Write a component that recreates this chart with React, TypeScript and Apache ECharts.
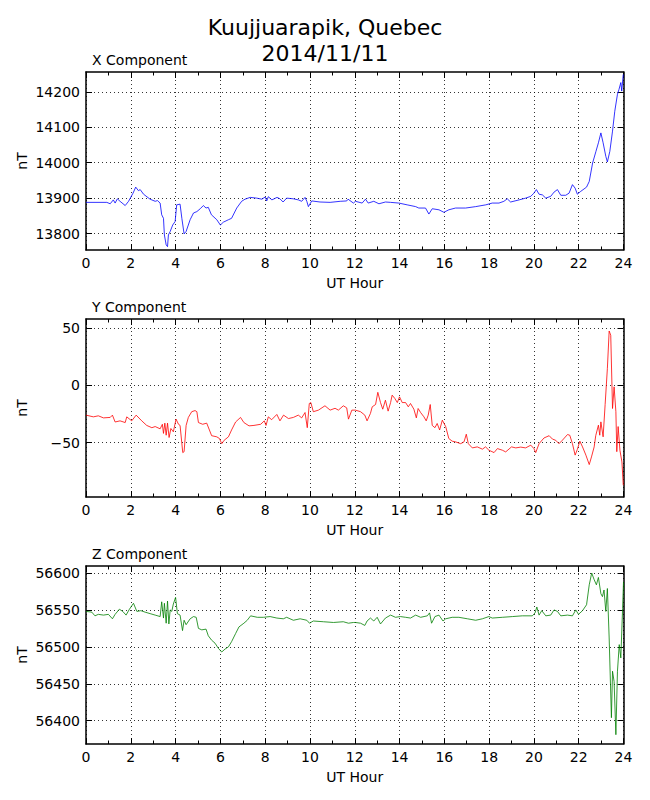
import React, { useEffect, useRef } from "react";
import * as echarts from "echarts";

const titleLines = ["Kuujjuarapik, Quebec", "2014/11/11"];
const panelTitles = ["X Component", "Y Component", "Z Component"];
const xTicks = [0, 2, 4, 6, 8, 10, 12, 14, 16, 18, 20, 22, 24];
const xCompTicks = [13800, 13900, 14000, 14100, 14200];
const yCompTicks = [-50, 0, 50];
const zCompTicks = [56400, 56450, 56500, 56550, 56600];
const xCompRange = [13753.6, 14255.8];
const yCompRange = [-97.7, 58.2];
const zCompRange = [56368.4, 56609.5];

const xCompHours = [0, 0.93, 1.08, 1.22, 1.3, 1.4, 1.52, 1.75, 1.9, 2.1, 2.22, 2.34, 2.42, 2.57, 2.86, 3.09, 3.19, 3.31, 3.38, 3.46, 3.5, 3.58, 3.64, 3.68, 3.76, 3.87, 3.98, 4.05, 4.2, 4.28, 4.38, 4.47, 4.65, 4.8, 4.95, 5.1, 5.24, 5.36, 5.46, 5.6, 5.84, 6.0, 6.13, 6.36, 6.5, 6.73, 6.95, 7.1, 7.33, 7.62, 7.85, 8.0, 8.07, 8.14, 8.3, 8.53, 8.66, 8.8, 8.96, 9.26, 9.48, 9.63, 9.78, 9.86, 9.93, 10.08, 10.45, 10.9, 11.35, 11.64, 11.7, 11.94, 12.03, 12.33, 12.48, 12.6, 12.85, 13.08, 13.37, 13.6, 13.97, 14.34, 14.72, 14.86, 15.16, 15.31, 15.46, 15.76, 15.98, 16.2, 16.5, 16.95, 17.4, 17.85, 18.14, 18.44, 18.66, 18.81, 18.96, 19.34, 19.63, 19.86, 20.0, 20.11, 20.23, 20.38, 20.53, 20.75, 20.9, 21.05, 21.2, 21.42, 21.57, 21.72, 21.84, 21.94, 22.09, 22.35, 22.47, 22.62, 22.77, 22.88, 22.99, 23.09, 23.21, 23.28, 23.39, 23.51, 23.61, 23.73, 23.8, 23.88, 23.92, 23.99];
const xCompValues = [13888, 13888, 13884, 13895, 13886, 13898, 13891, 13879, 13891, 13914, 13931, 13921, 13924, 13911, 13897, 13891, 13893, 13886, 13853, 13843, 13796, 13768, 13763, 13796, 13806, 13824, 13834, 13881, 13883, 13843, 13799, 13806, 13839, 13858, 13862, 13870, 13879, 13872, 13874, 13853, 13839, 13824, 13832, 13839, 13843, 13872, 13891, 13897, 13902, 13900, 13897, 13903, 13892, 13904, 13895, 13902, 13898, 13889, 13900, 13898, 13895, 13891, 13902, 13891, 13876, 13892, 13889, 13888, 13891, 13892, 13897, 13886, 13891, 13886, 13897, 13886, 13891, 13884, 13889, 13888, 13886, 13881, 13876, 13872, 13872, 13855, 13870, 13867, 13860, 13867, 13872, 13872, 13876, 13881, 13886, 13886, 13891, 13898, 13889, 13895, 13900, 13905, 13914, 13924, 13911, 13909, 13900, 13905, 13917, 13924, 13908, 13908, 13914, 13938, 13928, 13911, 13919, 13931, 13947, 13999, 14032, 14056, 14084, 14056, 14018, 14002, 14032, 14089, 14145, 14193, 14207, 14226, 14202, 14249];

const yCompHours = [0, 0.33, 0.55, 0.78, 1.08, 1.18, 1.3, 1.52, 1.75, 1.82, 2.04, 2.24, 2.49, 2.71, 2.94, 3.09, 3.31, 3.41, 3.46, 3.52, 3.58, 3.64, 3.71, 3.79, 3.9, 4.02, 4.13, 4.2, 4.32, 4.38, 4.47, 4.57, 4.72, 4.87, 4.95, 5.02, 5.21, 5.39, 5.51, 5.61, 5.84, 5.96, 6.06, 6.17, 6.36, 6.5, 6.68, 6.9, 7.05, 7.28, 7.5, 7.8, 7.96, 8.04, 8.14, 8.29, 8.52, 8.66, 8.82, 9.04, 9.26, 9.48, 9.63, 9.78, 9.88, 9.97, 10.04, 10.15, 10.38, 10.67, 10.9, 11.12, 11.27, 11.49, 11.64, 11.72, 11.87, 12.03, 12.26, 12.45, 12.55, 12.7, 12.78, 12.93, 13.03, 13.15, 13.25, 13.37, 13.49, 13.6, 13.67, 13.79, 13.9, 14.0, 14.12, 14.27, 14.39, 14.49, 14.64, 14.75, 14.83, 14.94, 15.09, 15.19, 15.28, 15.37, 15.46, 15.58, 15.68, 15.79, 15.91, 16.06, 16.2, 16.35, 16.5, 16.73, 16.88, 16.98, 17.07, 17.25, 17.47, 17.7, 17.84, 17.99, 18.22, 18.37, 18.59, 18.74, 19.0, 19.19, 19.41, 19.63, 19.86, 20.0, 20.08, 20.23, 20.45, 20.68, 20.83, 20.97, 21.12, 21.27, 21.5, 21.6, 21.72, 21.84, 21.94, 22.05, 22.17, 22.32, 22.47, 22.57, 22.69, 22.76, 22.88, 22.94, 22.99, 23.09, 23.18, 23.28, 23.36, 23.43, 23.51, 23.58, 23.66, 23.7, 23.76, 23.84, 23.93, 23.99];
const yCompValues = [-26, -27.5, -26.6, -28.4, -28, -26, -32, -31, -32.5, -27.5, -31, -26, -31, -35, -37, -36, -38, -34, -42, -33, -43.6, -33, -45.6, -37.7, -40.6, -29.5, -34, -35, -58.8, -58, -35, -28, -23, -22, -23, -32.5, -34, -33, -39, -44, -45, -46.5, -51, -48, -45, -39, -32, -28, -32.5, -35.4, -35, -34, -31, -35, -27.5, -30, -25.4, -31, -26, -29, -28, -26, -28.4, -23.7, -37, -15.8, -15, -23, -21.6, -17.8, -21.6, -20, -21.6, -17.8, -19.6, -29.5, -21.6, -21.6, -23, -26, -31, -24.5, -18.7, -16.7, -6, -15, -20.8, -12.9, -22.5, -15, -8.5, -11.4, -15, -10, -15, -15, -18.7, -15.8, -20.8, -28.4, -20.2, -23.7, -27.5, -31, -26, -16.7, -35, -37, -33.3, -39, -30.4, -36, -46.5, -48.8, -49.4, -51, -49.4, -42.7, -51, -54.7, -53.8, -55.8, -53.8, -56.7, -58.8, -55.3, -56.7, -58.2, -53.8, -54.7, -54, -54.7, -52.3, -55.3, -58.8, -51, -46, -44, -47, -48, -51, -48, -43, -43.6, -51, -61, -56, -48.8, -53.8, -61, -69.3, -62.6, -53.8, -44, -34.8, -43.6, -31.9, -45, -16.7, 15, 47.7, 44, -20.2, -1.2, -23, -58, -36, -56.7, -67, -87.4];

const zCompHours = [0, 0.26, 0.4, 0.55, 0.78, 1.0, 1.18, 1.3, 1.49, 1.64, 1.79, 1.94, 2.12, 2.27, 2.45, 2.64, 2.86, 3.09, 3.31, 3.38, 3.46, 3.5, 3.58, 3.64, 3.7, 3.76, 3.83, 3.9, 4.0, 4.08, 4.2, 4.31, 4.38, 4.47, 4.65, 4.8, 4.92, 5.02, 5.17, 5.36, 5.46, 5.61, 5.76, 5.91, 6.06, 6.21, 6.36, 6.5, 6.68, 6.83, 7.05, 7.2, 7.35, 7.65, 7.92, 8.22, 8.52, 8.81, 8.96, 9.26, 9.56, 9.86, 9.98, 10.15, 10.6, 11.05, 11.49, 11.72, 11.94, 12.03, 12.26, 12.45, 12.55, 12.7, 12.85, 13.0, 13.15, 13.37, 13.6, 13.82, 14.04, 14.27, 14.49, 14.72, 14.94, 15.24, 15.34, 15.43, 15.58, 15.76, 15.94, 16.06, 16.35, 16.65, 17.03, 17.4, 17.7, 17.99, 18.14, 18.59, 19.04, 19.48, 19.93, 20.05, 20.13, 20.23, 20.35, 20.53, 20.75, 20.9, 21.05, 21.2, 21.5, 21.72, 21.87, 21.99, 22.17, 22.35, 22.47, 22.58, 22.69, 22.79, 22.88, 22.99, 23.06, 23.13, 23.21, 23.28, 23.36, 23.46, 23.51, 23.58, 23.66, 23.73, 23.81, 23.88, 23.96, 24.0];
const zCompValues = [56548, 56547, 56542, 56544, 56543, 56544, 56538, 56544, 56551, 56548, 56543, 56551, 56559, 56548, 56549, 56547, 56545, 56543, 56541, 56561, 56539, 56559, 56532, 56562, 56531, 56550, 56548, 56558, 56567, 56545, 56543, 56522, 56536, 56530, 56538, 56541, 56540, 56525, 56523, 56524, 56515, 56509, 56505, 56498, 56493, 56497, 56500, 56507, 56518, 56527, 56532, 56536, 56542, 56540, 56540, 56541, 56539, 56538, 56540, 56536, 56538, 56536, 56532, 56535, 56534, 56533, 56534, 56532, 56533, 56533, 56532, 56529, 56535, 56539, 56535, 56540, 56531, 56539, 56543, 56540, 56541, 56540, 56539, 56543, 56540, 56542, 56546, 56532, 56541, 56543, 56535, 56538, 56540, 56540, 56538, 56536, 56538, 56541, 56539, 56540, 56541, 56542, 56542, 56546, 56554, 56543, 56549, 56542, 56543, 56550, 56548, 56542, 56543, 56542, 56550, 56544, 56549, 56557, 56584, 56600, 56591, 56584, 56594, 56572, 56568, 56577, 56548, 56579, 56512, 56404, 56467, 56453, 56381, 56467, 56503, 56485, 56552, 56588];

const FONT = "DejaVu Sans";

export default function App() {
  const ref = useRef<HTMLDivElement>(null);
  useEffect(() => {
    if (!ref.current) return;
    const chart = echarts.init(ref.current, null, { renderer: "svg" });
    const gridTops = [72, 319, 566];
    const gridH = 178;
    const left = 86;
    const width = 537.5;
    const panels = [
      { hours: xCompHours, values: xCompValues, ticks: xCompTicks, range: xCompRange, color: "#0000ff" },
      { hours: yCompHours, values: yCompValues, ticks: yCompTicks, range: yCompRange, color: "#ff0000" },
      { hours: zCompHours, values: zCompValues, ticks: zCompTicks, range: zCompRange, color: "#008000" },
    ];
    const fmt = (v: number) => (v < 0 ? "\u2212" + String(Math.abs(v)) : String(v));
    const dotted = { color: "#000", width: 0.8, type: [1, 3] as any };
    const frame = { color: "#000", width: 1.5 };
    const grid: any[] = [];
    const xAxis: any[] = [];
    const yAxis: any[] = [];
    const series: any[] = [];
    const graphic: any[] = [];
    panels.forEach((p, i) => {
      grid.push({ left, top: gridTops[i], width, height: gridH, containLabel: false });
      xAxis.push({
        type: "value", gridIndex: i, position: "bottom", min: 0, max: 24, interval: 2,
        axisLine: { show: true, onZero: false, lineStyle: frame },
        axisTick: { show: true, inside: true, length: 6, lineStyle: { color: "#000" } },
        minorTick: { show: true, splitNumber: 2, length: 3.5, lineStyle: { color: "#000" } },
        axisLabel: { show: true, margin: 6, color: "#000", fontSize: 14, fontFamily: FONT, formatter: fmt, customValues: xTicks },
        splitLine: { show: true, lineStyle: dotted },
        minorSplitLine: { show: false },
      });
      xAxis.push({
        type: "value", gridIndex: i, position: "top", min: 0, max: 24, interval: 2,
        axisLine: { show: true, onZero: false, lineStyle: frame },
        axisTick: { show: true, inside: true, length: 6, lineStyle: { color: "#000" } },
        minorTick: { show: true, splitNumber: 2, length: 3.5, lineStyle: { color: "#000" } },
        axisLabel: { show: false },
        splitLine: { show: false },
      });
      yAxis.push({
        type: "value", gridIndex: i, position: "left", min: p.range[0], max: p.range[1],
        axisLine: { show: true, onZero: false, lineStyle: frame },
        axisTick: { show: true, inside: true, length: 6, lineStyle: { color: "#000" }, customValues: p.ticks },
        axisLabel: { show: true, margin: 6, color: "#000", fontSize: 14, fontFamily: FONT, formatter: fmt, customValues: p.ticks },
        splitLine: { show: true, lineStyle: dotted },
      });
      yAxis.push({
        type: "value", gridIndex: i, position: "right", min: p.range[0], max: p.range[1],
        axisLine: { show: true, onZero: false, lineStyle: frame },
        axisTick: { show: true, inside: true, length: 6, lineStyle: { color: "#000" }, customValues: p.ticks },
        axisLabel: { show: false, customValues: p.ticks },
        splitLine: { show: false },
      });
      series.push({
        type: "line", xAxisIndex: i * 2, yAxisIndex: i * 2,
        data: p.hours.map((h, k) => [h, p.values[k]]),
        showSymbol: false, symbol: "none", clip: true,
        lineStyle: { color: p.color, width: 0.8 },
      });
      graphic.push({
        type: "text", left: 92, top: gridTops[i] - 19,
        style: { text: panelTitles[i], fontSize: 14, fontFamily: FONT, fill: "#000" },
      });
      graphic.push({
        type: "text", x: 22, y: gridTops[i] + gridH / 2, rotation: Math.PI / 2,
        style: { text: "nT", fontSize: 14, fontFamily: FONT, fill: "#000", align: "center", verticalAlign: "middle" },
      });
      graphic.push({
        type: "text", x: left + width / 2, y: gridTops[i] + gridH + 33,
        style: { text: "UT Hour", fontSize: 14, fontFamily: FONT, fill: "#000", align: "center", verticalAlign: "middle" },
      });
    });
    graphic.push({
      type: "text", x: 325, y: 27,
      style: { text: titleLines[0], fontSize: 22, fontFamily: FONT, fill: "#000", align: "center", verticalAlign: "middle" },
    });
    graphic.push({
      type: "text", x: 325, y: 53,
      style: { text: titleLines[1], fontSize: 22, fontFamily: FONT, fill: "#000", align: "center", verticalAlign: "middle" },
    });
    chart.setOption({
      animation: false,
      backgroundColor: "#fff",
      grid, xAxis, yAxis, series, graphic,
    });
    return () => chart.dispose();
  }, []);
  return (
    <div
      ref={ref}
      style={{ position: "absolute", left: 0, top: 0, width: 650, height: 800 }}
    />
  );
}
